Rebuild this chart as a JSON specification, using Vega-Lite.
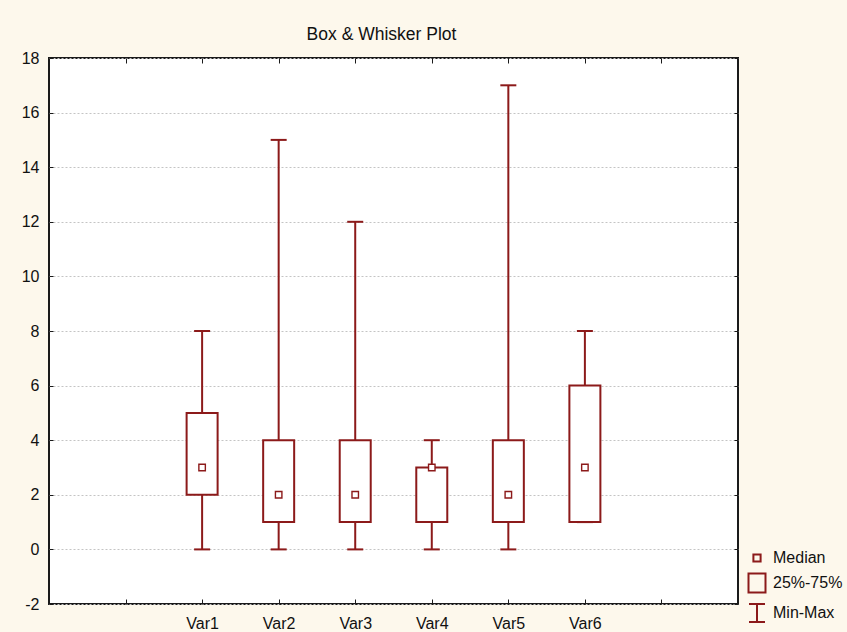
{
  "$schema": "https://vega.github.io/schema/vega-lite/v6.json",
  "autosize": {"type": "none"},
  "width": 689,
  "height": 546,
  "padding": {"left": 49, "top": 58, "right": 109, "bottom": 28},
  "background": "#fdf8ec",
  "view": {"fill": "#ffffff", "stroke": "#1a1a1a", "strokeWidth": 2},
  "config": {
    "font": "Liberation Sans",
    "axis": {"labelFont": "Liberation Sans", "labelFontSize": 16, "labelColor": "#111", "tickColor": "#1a1a1a", "domain": false, "title": null}
  },
  "title": {"text": "Box & Whisker Plot", "font": "Liberation Sans", "fontSize": 17.5, "fontWeight": "normal", "color": "#111", "anchor": "middle", "frame": "group", "dx": -12, "offset": -7, "baseline": "alphabetic"},
  "datasets": {
    "stats": [
      {"var": "Var1", "min": 0, "q1": 2, "med": 3, "q3": 5, "max": 8},
      {"var": "Var2", "min": 0, "q1": 1, "med": 2, "q3": 4, "max": 15},
      {"var": "Var3", "min": 0, "q1": 1, "med": 2, "q3": 4, "max": 12},
      {"var": "Var4", "min": 0, "q1": 1, "med": 3, "q3": 3, "max": 4},
      {"var": "Var5", "min": 0, "q1": 1, "med": 2, "q3": 4, "max": 17},
      {"var": "Var6", "min": 1, "q1": 1, "med": 3, "q3": 6, "max": 8}
    ],
    "legendItems": [
      {"item": "Median"},
      {"item": "25%-75%"},
      {"item": "Min-Max"}
    ]
  },
  "data": {"name": "stats"},
  "layer": [
    {
      "mark": {"type": "rule", "color": "#8c1a1a", "strokeWidth": 2},
      "encoding": {
        "x": {"field": "var", "type": "nominal", "sort": null,
              "scale": {"type": "point", "domain": ["a", "Var1", "Var2", "Var3", "Var4", "Var5", "Var6", "b"], "padding": 1},
              "axis": {"orient": "bottom", "labelAngle": 0, "tickSize": -5, "labelPadding": 16, "grid": false,
                       "labelExpr": "length(datum.label) > 1 ? datum.label : ''"}},
        "y": {"field": "min", "type": "quantitative",
              "scale": {"domain": [-2, 18], "nice": false, "zero": false},
              "axis": {"orient": "left", "values": [-2, 0, 2, 4, 6, 8, 10, 12, 14, 16, 18], "tickSize": -4, "labelPadding": 14,
                       "labelExpr": "datum.value < 0 ? '-' + abs(datum.value) : '' + datum.value",
                       "grid": true, "gridColor": "#c4c4c4", "gridDash": [2, 2], "gridWidth": 1}},
        "y2": {"field": "max"}
      }
    },
    {
      "mark": {"type": "bar", "size": 31, "fill": "white", "stroke": "#8c1a1a", "strokeWidth": 2},
      "encoding": {
        "x": {"field": "var", "type": "nominal", "sort": null,
              "axis": {"orient": "top", "labels": false, "tickSize": -5, "grid": false}},
        "y": {"field": "q1", "type": "quantitative",
              "axis": {"orient": "right", "labels": false, "tickSize": -4, "grid": false, "values": [-2, 0, 2, 4, 6, 8, 10, 12, 14, 16, 18]}},
        "y2": {"field": "q3"}
      }
    },
    {
      "mark": {"type": "point", "shape": "M-1,0H1", "size": 256, "filled": false, "color": "#8c1a1a", "strokeWidth": 2, "opacity": 1},
      "encoding": {
        "x": {"field": "var", "type": "nominal", "sort": null, "axis": null},
        "y": {"field": "min", "type": "quantitative", "axis": null}
      }
    },
    {
      "mark": {"type": "point", "shape": "M-1,0H1", "size": 256, "filled": false, "color": "#8c1a1a", "strokeWidth": 2, "opacity": 1},
      "encoding": {
        "x": {"field": "var", "type": "nominal", "sort": null, "axis": null},
        "y": {"field": "max", "type": "quantitative", "axis": null}
      }
    },
    {
      "mark": {"type": "point", "shape": "square", "size": 42, "fill": "white", "stroke": "#8c1a1a", "strokeWidth": 1.4, "opacity": 1},
      "encoding": {
        "x": {"field": "var", "type": "nominal", "sort": null, "axis": null},
        "y": {"field": "med", "type": "quantitative", "axis": null}
      }
    },
    {
      "data": {"name": "legendItems"},
      "mark": {"type": "point", "filled": false, "color": "#8c1a1a", "strokeWidth": 2, "opacity": 0},
      "encoding": {
        "shape": {"field": "item", "type": "nominal",
                  "scale": {"domain": ["Median", "25%-75%", "Min-Max"],
                            "range": ["M-0.36,-0.36H0.36V0.36H-0.36Z", "M-0.85,-0.95H0.85V0.95H-0.85Z", "M-0.8,-0.9H0.8M0,-0.9V0.9M-0.8,0.9H0.8"]},
                  "legend": {"title": null, "orient": "none", "legendX": 697, "legendY": 489, "padding": 0,
                             "symbolSize": 400, "symbolStrokeColor": "#8c1a1a", "symbolStrokeWidth": 2, "symbolFillColor": "transparent",
                             "symbolOpacity": 1, "labelFont": "Liberation Sans", "labelFontSize": 16, "labelColor": "#111",
                             "labelOffset": 5, "rowPadding": 3}}
      }
    }
  ]
}
